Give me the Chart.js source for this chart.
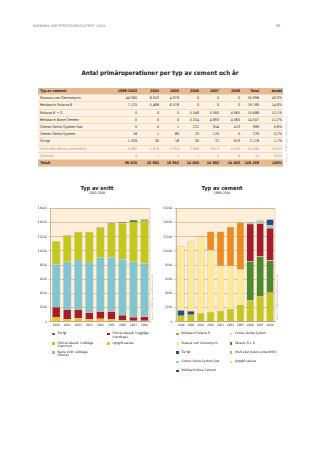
<!DOCTYPE html>
<html lang="sv">
<head>
<meta charset="UTF-8">
<title>Antal primäroperationer per typ av cement och år</title>
<script src="https://cdn.jsdelivr.net/npm/chart.js"></script>
<style>
    body {
        margin: 0;
        width: 320px;
        height: 453px;
        position: relative;
        overflow: hidden;
        background: #fff;
        color: #222;
        font-family: "Liberation Sans Narrow", "DejaVu Sans Condensed", "Liberation Sans", sans-serif;
    }
    .abs { position: absolute; white-space: nowrap; }
    .sidhuvud { left: 33px; top: 24px; font-size: 3.4px; letter-spacing: 0.35px; color: #666; }
    .sidnr { left: 276px; top: 24px; font-size: 3.6px; color: #666; }
    .rubrik { left: 0; width: 320px; top: 69px; text-align: center; font-size: 6.2px; font-weight: bold; }
    .diagramrubrik { text-align: center; font-weight: bold; font-size: 5.6px; line-height: 6px; }
    .diagramrubrik span { display: block; font-weight: normal; font-size: 3.4px; line-height: 4px; }
    .copy { font-size: 2.2px; color: #888; transform: rotate(-90deg); transform-origin: left top; }
    table { position: absolute; left: 38px; top: 88px; width: 245px; border-collapse: collapse; table-layout: fixed; font-size: 3.6px; }
    td { padding: 0 1px; height: 6.2px; line-height: 6.2px; text-align: right; white-space: nowrap; border-bottom: 1px solid #efd9bf; }
    td:first-child { text-align: left; padding-left: 2px; }
    tr { background: #fdf2e3; }
    tr.topp, tr.summa { background: #e7b892; font-weight: bold; }
    tr.gra td { color: #9a9a9a; }
    .leg { position: absolute; font-size: 3.2px; line-height: 3.6px; white-space: nowrap; }
    .ruta { position: absolute; width: 2.6px; height: 2.6px; }
    canvas { position: absolute; }
</style>
</head>
<body>
<div class="abs sidhuvud">SVENSKA HÖFTPROTESREGISTRET 2008</div>
<div class="abs sidnr">39</div>
<div class="abs rubrik">Antal primäroperationer per typ av cement och år</div>
<table id="tabell"></table>
<div class="abs copy" style="left:285px; top:162px;">Copyright © 2009 Svenska Höftprotesregistret</div>

<div class="abs diagramrubrik" style="left:57px; width:80px; top:185px;">Typ av snitt<span>2000-2008</span></div>
<div class="abs diagramrubrik" style="left:182px; width:80px; top:185px;">Typ av cement<span>1999-2008</span></div>

<canvas id="snitt" width="126" height="128" style="left:28px; top:204px;"></canvas>
<canvas id="cement" width="124" height="128" style="left:155px; top:204px;"></canvas>
<div class="abs copy" style="left:151px; top:320px;">Copyright © 2009 Svenska Höftprotesregistret</div>
<div class="abs copy" style="left:276px; top:320px;">Copyright © 2009 Svenska Höftprotesregistret</div>

<div id="legender"></div>

<script>
    // tabellen
    const tabellTyp = ['Palacos cum Gentamycin', 'Refobacin Palacos R', 'Palacos R + G', 'Refobacin Bone Cement',
        'Cemex Genta System Fast', 'Cemex Genta System', 'Övrigt', '(Helt eller delvis cementfritt)', '(Saknas)', 'Totalt'];
    const tabell1999_2003 = [44965, 7125, 0, 0, 0, 16, 1259, 5660, 0, 59025];
    const tabell2004 = [6053, 5488, 0, 0, 0, 1, 30, 1819, 1, 13392];
    const tabell2005 = [4978, 6576, 0, 0, 1, 69, 16, 2310, 2, 13952];
    const tabell2006 = [0, 0, 5548, 5254, 221, 23, 30, 2988, 1, 14065];
    const tabell2007 = [0, 0, 5580, 4693, 354, 120, 22, 3613, 0, 14382];
    const tabell2008 = [0, 0, 4560, 4560, 413, 0, 819, 4095, 6, 14453];
    const tabellTotal = [55996, 19189, 15688, 14507, 989, 229, 2176, 20485, 10, 129269];
    const tabellAndel = ['43,3%', '14,8%', '12,1%', '11,2%', '0,8%', '0,2%', '1,7%', '15,8%', '0,0%', '100%'];

    // diagram 1: typ av snitt
    const snittAr = ['2000', '2001', '2002', '2003', '2004', '2005', '2006', '2007', '2008'];
    const snittSaknas = [650, 380, 470, 330, 420, 380, 190, 140, 140];
    const snittHardinge = [1420, 1360, 1270, 990, 1040, 1080, 750, 520, 610];
    const snittMoore = [6020, 6730, 6970, 7100, 7620, 7620, 7860, 7810, 7490];
    const snittGammer = [3240, 3700, 3940, 4230, 4230, 4750, 5100, 5610, 6010];
    const snittOvrigt = [60, 60, 50, 50, 80, 120, 160, 300, 200];

    // diagram 2: typ av cement
    const cementAr = ['1999', '2000', '2001', '2002', '2003', '2004', '2005', '2006', '2007', '2008'];
    const cementFritt = [850, 990, 1180, 1370, 1510, 1820, 2400, 2990, 3610, 4100];
    const cementOvrigtTidigt = [780, 520, 60, 20, 20, 30, 16, 0, 0, 0];
    const cementPalacosGenta = [9000, 9790, 10800, 8730, 6400, 6050, 4980, 0, 0, 0];
    const cementRefobacinPalacos = [0, 0, 90, 2590, 4780, 5490, 6580, 0, 0, 0];
    const cementPalacosRG = [0, 0, 0, 0, 0, 0, 0, 5550, 5580, 4560];
    const cementRefobacinBone = [0, 0, 0, 0, 0, 0, 0, 5250, 4690, 4560];
    const cementGentaFast = [0, 0, 0, 0, 0, 0, 1, 220, 350, 410];
    const cementGenta = [0, 0, 0, 0, 0, 1, 70, 20, 120, 0];
    const cementOvrigtSent = [0, 0, 0, 0, 0, 0, 0, 30, 20, 820];
    const cementSaknas = [0, 0, 0, 0, 0, 1, 2, 1, 0, 6];

    function tal(n) {
        return String(n).replace(/\B(?=(\d{3})+(?!\d))/g, ' ');
    }

    function byggTabell() {
        const t = document.getElementById('tabell');
        const bredder = [78, 22, 22, 20, 20, 20, 21, 19, 23];
        let html = '<colgroup>' + bredder.map(b => `<col style="width:${b}px">`).join('') + '</colgroup>';
        html += '<tr class="topp"><td>Typ av cement</td><td>1999-2003</td><td>2004</td><td>2005</td><td>2006</td><td>2007</td><td>2008</td><td>Total</td><td>Andel</td></tr>';
        tabellTyp.forEach((typ, i) => {
            const klass = i === tabellTyp.length - 1 ? 'summa' : (typ.startsWith('(') ? 'gra' : '');
            const celler = [tabell1999_2003[i], tabell2004[i], tabell2005[i], tabell2006[i], tabell2007[i], tabell2008[i], tabellTotal[i]]
                .map(v => `<td>${tal(v)}</td>`).join('');
            html += `<tr class="${klass}"><td>${typ}</td>${celler}<td>${tabellAndel[i]}</td></tr>`;
        });
        t.innerHTML = html;
    }
    byggTabell();

    const familj = '"Liberation Sans Narrow", "DejaVu Sans Condensed", sans-serif';

    const bakgrund = {
        id: 'bakgrund',
        beforeDraw(chart) {
            const { ctx, chartArea: a } = chart;
            ctx.save();
            ctx.fillStyle = '#fdefd9';
            ctx.fillRect(a.left, a.top, a.right - a.left, a.bottom - a.top);
            ctx.strokeStyle = '#dcc3a2';
            ctx.lineWidth = 0.6;
            ctx.strokeRect(a.left, a.top, a.right - a.left, a.bottom - a.top);
            ctx.restore();
        }
    };

    function staplar(id, etiketter, dataset, axelBredd) {
        new Chart(document.getElementById(id), {
            type: 'bar',
            data: { labels: etiketter, datasets: dataset },
            options: {
                responsive: false,
                animation: false,
                devicePixelRatio: 1,
                layout: { padding: { top: 4.3, right: 4, left: 0, bottom: 0 } },
                plugins: { legend: { display: false }, tooltip: { enabled: false } },
                datasets: { bar: { barPercentage: 0.74, categoryPercentage: 1, borderWidth: 0.4, borderColor: 'rgba(90,65,30,0.45)' } },
                scales: {
                    x: {
                        stacked: true,
                        grid: { display: false, drawTicks: false, tickLength: 0 },
                        border: { color: '#b89a74', width: 0.6 },
                        ticks: { font: { family: familj, size: 3 }, color: '#333', padding: 2, maxRotation: 0, autoSkip: false },
                        afterFit: s => { s.height = 10.3; }
                    },
                    y: {
                        stacked: true,
                        min: 0,
                        max: 16000,
                        grid: { color: '#c9a67c', lineWidth: 0.6, tickLength: 2 },
                        border: { color: '#b89a74', width: 0.6 },
                        ticks: { stepSize: 2000, font: { family: familj, size: 3.3 }, color: '#333', padding: 1.5, callback: v => String(v) },
                        afterFit: s => { s.width = axelBredd; }
                    }
                }
            },
            plugins: [bakgrund]
        });
    }

    staplar('snitt', snittAr, [
        { label: 'Uppgift saknas', data: snittSaknas, backgroundColor: '#f3c11b' },
        { label: 'Främre lateralt i ryggläge (Hardinge)', data: snittHardinge, backgroundColor: '#a51c30' },
        { label: 'Bakre snitt i sidoläge (Moore)', data: snittMoore, backgroundColor: '#7fc6d2' },
        { label: 'Främre lateralt i sidoläge (Gammer)', data: snittGammer, backgroundColor: '#c3c81e' },
        { label: 'Övrigt', data: snittOvrigt, backgroundColor: '#3f8a2f' }
    ], 22.7);

    staplar('cement', cementAr, [
        { label: '(Helt eller delvis cementfritt)', data: cementFritt, backgroundColor: '#c3c81e' },
        { label: 'Övrigt', data: cementOvrigtTidigt, backgroundColor: '#1d4f8f' },
        { label: 'Palacos cum Gentamycin', data: cementPalacosGenta, backgroundColor: '#fde99c' },
        { label: 'Refobacin Palacos R', data: cementRefobacinPalacos, backgroundColor: '#ee8b1f' },
        { label: 'Palacos R + G', data: cementPalacosRG, backgroundColor: '#4b8a2e' },
        { label: 'Refobacin Bone Cement', data: cementRefobacinBone, backgroundColor: '#a51c30' },
        { label: 'Cemex Genta System Fast', data: cementGentaFast, backgroundColor: '#90cfdb' },
        { label: 'Cemex Genta System', data: cementGenta, backgroundColor: '#f2c4c8' },
        { label: 'Övrigt', data: cementOvrigtSent, backgroundColor: '#1d4f8f' },
        { label: 'Uppgift saknas', data: cementSaknas, backgroundColor: '#f3d25a' }
    ], 21);

    // legender
    const legendPoster = [
        [52, 334, '#3f8a2f', 'Övrigt'],
        [52, 343.3, '#c3c81e', 'Främre lateralt i sidoläge<br>(Gammer)'],
        [52, 352.7, '#7fc6d2', 'Bakre snitt i sidoläge<br>(Moore)'],
        [107, 334, '#a51c30', 'Främre lateralt i ryggläge<br>(Hardinge)'],
        [107, 343.3, '#f3c11b', 'Uppgift saknas'],
        [176, 334, '#ee8b1f', 'Refobacin Palacos R'],
        [176, 343.5, '#fde99c', 'Palacos cum Gentamycin'],
        [176, 352.7, '#1d4f8f', 'Övrigt'],
        [176, 362, '#90cfdb', 'Cemex Genta System Fast'],
        [176, 371, '#a51c30', 'Refobacin Bone Cement'],
        [229.5, 334, '#f2c4c8', 'Cemex Genta System'],
        [229.5, 343.5, '#4b8a2e', 'Palacos R + G'],
        [229.5, 352.7, '#c3c81e', '(Helt eller delvis cementfritt)'],
        [229.5, 362, '#f3d25a', 'Uppgift saknas']
    ];
    const leg = document.getElementById('legender');
    legendPoster.forEach(([x, y, farg, text]) => {
        leg.insertAdjacentHTML('beforeend',
            `<div class="ruta" style="left:${x}px; top:${y - 1.3}px; background:${farg};"></div>` +
            `<div class="leg" style="left:${x + 5.5}px; top:${y - 1.8}px;">${text}</div>`);
    });
</script>
</body>
</html>
